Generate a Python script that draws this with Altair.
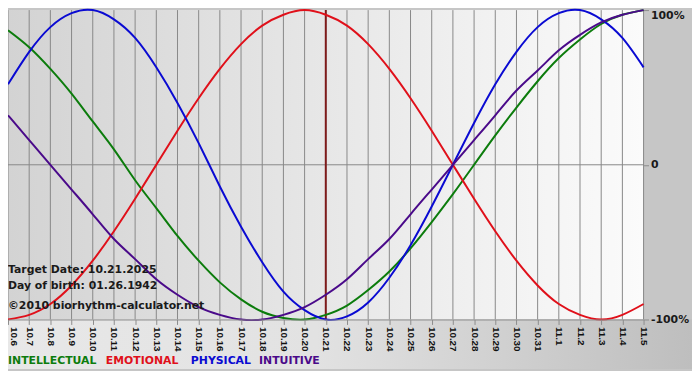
import altair as alt
import pandas as pd

days = ["10.6", "10.7", "10.8", "10.9", "10.10", "10.11", "10.12", "10.13", "10.14",
        "10.15", "10.16", "10.17", "10.18", "10.19", "10.20", "10.21", "10.22", "10.23",
        "10.24", "10.25", "10.26", "10.27", "10.28", "10.29", "10.30", "10.31", "11.1",
        "11.2", "11.3", "11.4", "11.5"]

intellectual = [0.87, 0.76, 0.62, 0.46, 0.28, 0.10, -0.10, -0.28, -0.46, -0.62, -0.76,
                -0.87, -0.95, -0.99, -1.00, -0.97, -0.91, -0.81, -0.69, -0.54, -0.37,
                -0.19, 0.00, 0.19, 0.37, 0.54, 0.69, 0.81, 0.91, 0.97, 1.00]
emotional = [-1.00, -0.97, -0.90, -0.78, -0.62, -0.43, -0.22, 0.00, 0.22, 0.43, 0.62,
             0.78, 0.90, 0.97, 1.00, 0.97, 0.90, 0.78, 0.62, 0.43, 0.22, 0.00, -0.22,
             -0.43, -0.62, -0.78, -0.90, -0.97, -1.00, -0.97, -0.90]
physical = [0.52, 0.73, 0.89, 0.98, 1.00, 0.94, 0.82, 0.63, 0.40, 0.14, -0.14, -0.40,
            -0.63, -0.82, -0.94, -1.00, -0.98, -0.89, -0.73, -0.52, -0.27, 0.00, 0.27,
            0.52, 0.73, 0.89, 0.98, 1.00, 0.94, 0.82, 0.63]
intuitive = [0.32, 0.16, 0.00, -0.16, -0.32, -0.48, -0.61, -0.74, -0.84, -0.92, -0.97,
             -1.00, -1.00, -0.97, -0.92, -0.84, -0.74, -0.61, -0.48, -0.32, -0.16, 0.00,
             0.16, 0.32, 0.48, 0.61, 0.74, 0.84, 0.92, 0.97, 1.00]

series_names = ["INTELLECTUAL", "EMOTIONAL", "PHYSICAL", "INTUITIVE"]
series_values = [intellectual, emotional, physical, intuitive]
series_colors = ["#0c7c0c", "#e0101a", "#0a0ad2", "#4a0a8a"]

target_day = "10.21"
y_ticks = [1, 0, -1]
y_labels = ["100%", "0", "-100%"]
notes = ["Target Date: 10.21.2025", "Day of birth: 01.26.1942", "©2010 biorhythm-calculator.net"]

W, H = 643, 313
FONT = "DejaVu Sans"

rows = []
for name, vals in zip(series_names, series_values):
    for i, v in enumerate(vals):
        rows.append({"idx": i, "value": v, "series": name})
df = pd.DataFrame(rows)
grid_df = pd.DataFrame({"idx": list(range(len(days)))})
target_df = pd.DataFrame({"idx": [days.index(target_day)]})
zero_df = pd.DataFrame({"value": [0]})

label_expr = "[" + ",".join("'" + d + "'" for d in days) + "][datum.value]"
y_label_expr = " : ".join(
    f"datum.value == {t} ? '{l}'" for t, l in zip(y_ticks[:-1], y_labels[:-1])
) + f" : '{y_labels[-1]}'"

xscale = alt.Scale(domain=[0, len(days) - 1], nice=False, zero=False)
yscale = alt.Scale(domain=[-1, 1], nice=False)

x_axis = alt.Axis(values=list(range(len(days))), labelExpr=label_expr, labelAngle=90,
                  labelAlign="left", labelBaseline="middle", grid=False, title=None,
                  domainColor="#8c8c8c", tickColor="#8c8c8c", tickSize=5, labelPadding=2,
                  labelFont="Liberation Sans", labelFontWeight="bold", labelFontSize=10,
                  labelColor="#111111", zindex=1, labelOverlap=False, labelBound=False,
                  labelOffset={"condition": {"test": "datum.value == 0", "value": 6},
                               "value": 0})
y_axis = alt.Axis(values=y_ticks, labelExpr=y_label_expr, orient="right", grid=False,
                  title=None, domain=False, tickColor="#8c8c8c", tickSize=5, labelPadding=2,
                  labelFont=FONT, labelFontWeight="bold", labelFontSize=11,
                  labelColor="#1a1a1a", zindex=1, labelOverlap=False,
                  labelBaseline={"condition": {"test": f"datum.value == {y_ticks[0]}",
                                               "value": "top"}, "value": "middle"})

bg = alt.Chart(pd.DataFrame({"a": [0]})).mark_rect(
    color=alt.Gradient(gradient="linear", x1=0, x2=1, y1=0, y2=0,
                       stops=[alt.GradientStop(color="#d3d3d3", offset=0),
                              alt.GradientStop(color="#fbfbfb", offset=1)])
).encode(x=alt.value(0), x2=alt.value(W), y=alt.value(0), y2=alt.value(H))

bottom = alt.Chart(pd.DataFrame({"a": [0]})).mark_rect(
    color=alt.Gradient(gradient="linear", x1=0, x2=1, y1=0, y2=0,
                       stops=[alt.GradientStop(color="#e8e8e8", offset=0),
                              alt.GradientStop(color="#e2e2e2", offset=0.45),
                              alt.GradientStop(color="#bebebe", offset=1)])
).encode(x=alt.value(0), x2=alt.value(W + 49), y=alt.value(H), y2=alt.value(H + 50))

grid = alt.Chart(grid_df).mark_rule(color="#888888", strokeWidth=1).encode(
    x=alt.X("idx:Q", scale=xscale, axis=x_axis))
zero = alt.Chart(zero_df).mark_rule(color="#888888", strokeWidth=1).encode(
    y=alt.Y("value:Q", scale=yscale, axis=y_axis))
target = alt.Chart(target_df).mark_rule(color="#7e1a1a", strokeWidth=2).encode(
    x=alt.X("idx:Q", scale=xscale, axis=x_axis))

lines = alt.Chart(df).mark_line(strokeWidth=2, interpolate="natural").encode(
    x=alt.X("idx:Q", scale=xscale, axis=x_axis),
    y=alt.Y("value:Q", scale=yscale, axis=y_axis),
    color=alt.Color("series:N", scale=alt.Scale(domain=series_names, range=series_colors),
                    legend=None),
    detail="series:N",
)

layers = [bg, bottom, grid, zero, target, lines]

note_y = [263, 279, 299]
for t, yy in zip(notes, note_y):
    layers.append(alt.Chart(pd.DataFrame({"t": [t]})).mark_text(
        align="left", baseline="middle", font=FONT, fontWeight="bold", fontSize=11,
        color="#1a1a1a").encode(text="t:N", x=alt.value(0), y=alt.value(yy)))

legend_x = [0, 99, 185, 254]
for name, col, xx in zip(series_names, series_colors, legend_x):
    layers.append(alt.Chart(pd.DataFrame({"t": [name]})).mark_text(
        align="left", baseline="middle", font=FONT, fontWeight="bold", fontSize=11,
        color=col).encode(text="t:N", x=alt.value(xx), y=alt.value(H + 42)))

chart = alt.layer(*layers).properties(
    width=W, height=H,
    autosize=alt.AutoSizeParams(type="none"),
    padding={"left": 0, "top": 0, "right": 49, "bottom": 50},
).configure(background="#c6c6c6").configure_view(stroke=None)

chart.save("out.html", embed_options={"renderer": "svg", "actions": False})
